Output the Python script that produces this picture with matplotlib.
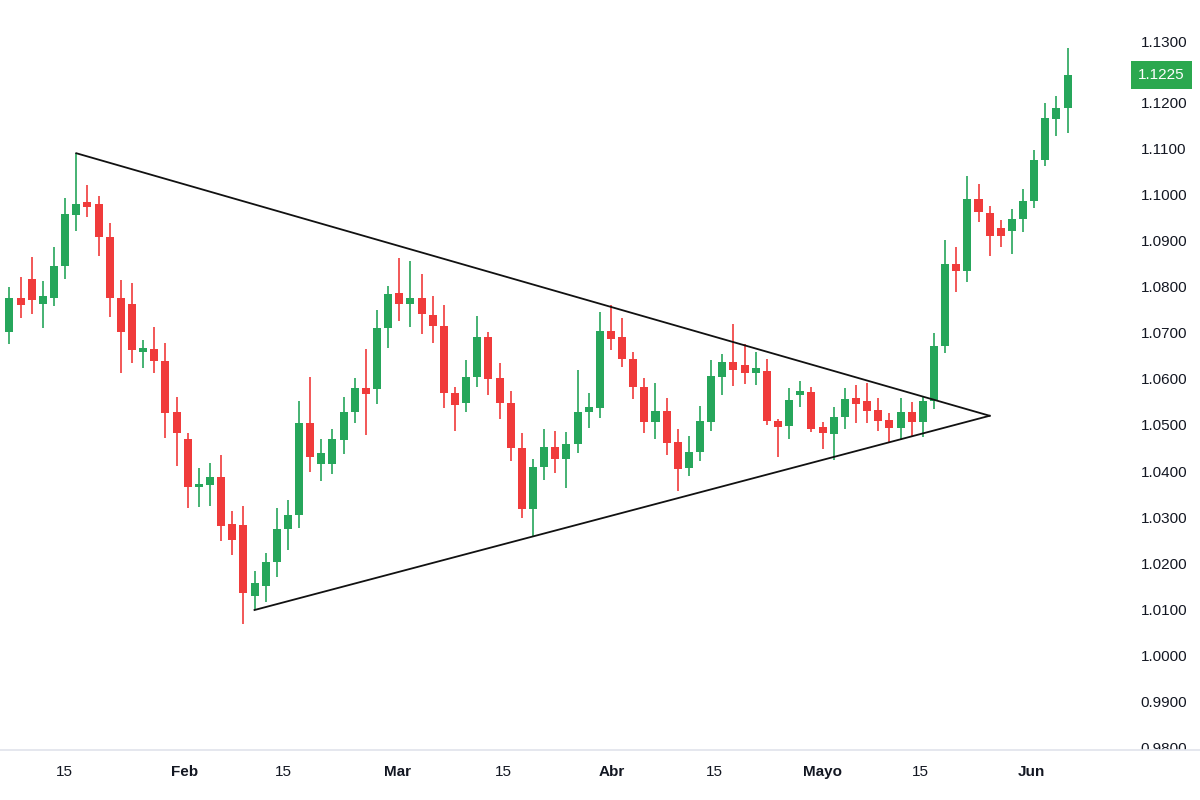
import numpy as np
import matplotlib.pyplot as plt
from matplotlib.lines import Line2D
from matplotlib.patches import Rectangle
import matplotlib.transforms as mtransforms

plt.rcParams['font.family'] = ['Liberation Sans', 'DejaVu Sans']

# daily candles
opens = [1.0701, 1.0775, 1.0816, 1.0762, 1.0776, 1.0845, 1.0956, 1.0983, 1.0980, 1.0908,
         1.0776, 1.0762, 1.0658, 1.0665, 1.0639, 1.0528, 1.0469, 1.0365, 1.0369, 1.0387,
         1.0285, 1.0283, 1.0130, 1.0152, 1.0204, 1.0274, 1.0305, 1.0505, 1.0415, 1.0415,
         1.0468, 1.0528, 1.0581, 1.0578, 1.0710, 1.0785, 1.0762, 1.0775, 1.0738, 1.0715,
         1.0569, 1.0547, 1.0603, 1.0690, 1.0601, 1.0548, 1.0451, 1.0317, 1.0408, 1.0452,
         1.0426, 1.0458, 1.0528, 1.0537, 1.0704, 1.0691, 1.0644, 1.0582, 1.0507, 1.0530,
         1.0463, 1.0406, 1.0441, 1.0507, 1.0603, 1.0637, 1.0630, 1.0613, 1.0618, 1.0509,
         1.0498, 1.0564, 1.0572, 1.0496, 1.0480, 1.0517, 1.0558, 1.0552, 1.0533, 1.0511,
         1.0493, 1.0529, 1.0506, 1.0552, 1.0671, 1.0850, 1.0834, 1.0989, 1.0959, 1.0926,
         1.0921, 1.0946, 1.0985, 1.1074, 1.1163, 1.1186]
highs = [1.0800, 1.0820, 1.0865, 1.0813, 1.0885, 1.0991, 1.1089, 1.1020, 1.0996, 1.0938,
         1.0814, 1.0807, 1.0684, 1.0713, 1.0678, 1.0560, 1.0482, 1.0406, 1.0417, 1.0435,
         1.0314, 1.0325, 1.0184, 1.0222, 1.0320, 1.0337, 1.0551, 1.0605, 1.0469, 1.0491,
         1.0561, 1.0601, 1.0665, 1.0749, 1.0802, 1.0861, 1.0855, 1.0827, 1.0780, 1.0760,
         1.0583, 1.0641, 1.0736, 1.0702, 1.0634, 1.0574, 1.0483, 1.0426, 1.0491, 1.0488,
         1.0484, 1.0620, 1.0570, 1.0744, 1.0760, 1.0731, 1.0658, 1.0601, 1.0592, 1.0559,
         1.0491, 1.0477, 1.0542, 1.0641, 1.0654, 1.0718, 1.0675, 1.0658, 1.0642, 1.0513,
         1.0580, 1.0596, 1.0582, 1.0507, 1.0538, 1.0580, 1.0587, 1.0592, 1.0558, 1.0527,
         1.0559, 1.0549, 1.0563, 1.0699, 1.0902, 1.0885, 1.1040, 1.1022, 1.0975, 1.0944,
         1.0968, 1.1011, 1.1095, 1.1197, 1.1212, 1.1316]
lows = [1.0675, 1.0731, 1.0741, 1.0711, 1.0758, 1.0816, 1.0921, 1.0950, 1.0866, 1.0733,
        1.0612, 1.0635, 1.0624, 1.0612, 1.0472, 1.0412, 1.0321, 1.0323, 1.0325, 1.0249,
        1.0218, 1.0069, 1.0099, 1.0117, 1.0171, 1.0228, 1.0276, 1.0399, 1.0379, 1.0394,
        1.0437, 1.0504, 1.0478, 1.0546, 1.0666, 1.0726, 1.0712, 1.0697, 1.0677, 1.0536,
        1.0486, 1.0529, 1.0582, 1.0564, 1.0513, 1.0423, 1.0298, 1.0257, 1.0381, 1.0395,
        1.0363, 1.0439, 1.0494, 1.0516, 1.0663, 1.0625, 1.0556, 1.0483, 1.0469, 1.0435,
        1.0357, 1.0390, 1.0423, 1.0486, 1.0564, 1.0585, 1.0588, 1.0587, 1.0500, 1.0431,
        1.0469, 1.0540, 1.0485, 1.0448, 1.0424, 1.0491, 1.0504, 1.0504, 1.0486, 1.0464,
        1.0468, 1.0475, 1.0475, 1.0534, 1.0657, 1.0788, 1.0809, 1.0939, 1.0866, 1.0885,
        1.0871, 1.0919, 1.0970, 1.1061, 1.1127, 1.1132]
closes = [1.0775, 1.0760, 1.0771, 1.0780, 1.0845, 1.0957, 1.0979, 1.0973, 1.0907, 1.0775,
          1.0701, 1.0663, 1.0666, 1.0639, 1.0527, 1.0483, 1.0365, 1.0372, 1.0387, 1.0280,
          1.0251, 1.0135, 1.0157, 1.0204, 1.0275, 1.0305, 1.0505, 1.0431, 1.0439, 1.0469,
          1.0528, 1.0581, 1.0567, 1.0711, 1.0784, 1.0762, 1.0775, 1.0740, 1.0715, 1.0569,
          1.0543, 1.0603, 1.0690, 1.0600, 1.0548, 1.0451, 1.0317, 1.0408, 1.0452, 1.0426,
          1.0458, 1.0529, 1.0540, 1.0704, 1.0686, 1.0643, 1.0582, 1.0507, 1.0530, 1.0462,
          1.0405, 1.0442, 1.0509, 1.0606, 1.0637, 1.0619, 1.0613, 1.0623, 1.0509, 1.0496,
          1.0554, 1.0574, 1.0491, 1.0482, 1.0517, 1.0557, 1.0545, 1.0531, 1.0509, 1.0493,
          1.0529, 1.0507, 1.0552, 1.0671, 1.0850, 1.0834, 1.0989, 1.0961, 1.0910, 1.0910,
          1.0946, 1.0985, 1.1074, 1.1165, 1.1188, 1.1259]

# x axis labels (candle index where they sit)
tick_pos = [4.95, 15.75, 24.55, 34.85, 44.35, 54.05, 63.25, 72.95, 81.75, 91.75]
tick_text = ["15", "Feb", "15", "Mar", "15", "Abr", "15", "Mayo", "15", "Jun"]
price_ticks = [0.98, 0.99, 1.00, 1.01, 1.02, 1.03, 1.04, 1.05, 1.06, 1.07,
               1.08, 1.09, 1.10, 1.11, 1.12, 1.13]

# triangle: (candle index, price) for start points and apex
upper_line = ([6, 88.0], [1.1089, 1.0520])
lower_line = ([22, 88.0], [1.0099, 1.0520])
last_label = "1.1225"

green = "#26A65B"
red = "#F03B3B"

o = np.array(opens)
h = np.array(highs)
l = np.array(lows)
c = np.array(closes)
x = np.arange(len(o))
cols = [green if cc >= oo else red for oo, cc in zip(o, c)]

fig = plt.figure(figsize=(12, 8), dpi=100)
ax = fig.add_axes([0, 0.0625, 0.9333, 0.9375])

# wicks then bodies
ax.vlines(x, l, h, colors=cols, linewidth=1.2, zorder=2)
body = np.maximum(np.abs(c - o), 0.00025)
ax.bar(x, body, bottom=np.minimum(o, c), width=0.72, color=cols, zorder=3)

ax.plot(upper_line[0], upper_line[1], color="#111111", lw=1.3, zorder=4)
ax.plot(lower_line[0], lower_line[1], color="#111111", lw=1.3, zorder=4)

ax.set_xlim(-0.85, 99.7)
ax.set_ylim(0.97956, 1.14211)

ax.yaxis.tick_right()
ax.set_yticks(price_ticks)
ax.set_yticklabels(["%.4f" % p for p in price_ticks])
ax.tick_params(axis="y", length=0, pad=15, labelsize=11, labelcolor="#131722")
ax.set_xticks(tick_pos)
ax.set_xticklabels(tick_text)
ax.tick_params(axis="x", length=0, pad=11, labelsize=11, labelcolor="#131722")
for lab in ax.get_xticklabels():
    if not lab.get_text().isdigit():
        lab.set_fontweight("bold")

# top label is pushed up to make room for the price tag
top = ax.get_yticklabels()[-1]
top.set_transform(top.get_transform() +
                  mtransforms.ScaledTranslation(0, 14 / 100, fig.dpi_scale_trans))

for s in ax.spines.values():
    s.set_visible(False)

# last price tag
trans = mtransforms.blended_transform_factory(ax.transAxes, ax.transData)
ax.text(1.0370, c[-1], last_label, transform=trans, ha="center", va="center",
        fontsize=11, color="white", clip_on=False, zorder=6,
        bbox=dict(boxstyle="square,pad=0.45", fc="#2BA84F", ec="none"))

# hide the part of the lowest label under the time axis, then draw the axis line
fig.add_artist(Rectangle((0.9333, 0.0), 0.0667, 0.0625, transform=fig.transFigure,
                         color="white", zorder=5))
fig.add_artist(Line2D([0, 1], [0.0625, 0.0625], transform=fig.transFigure,
                      color="#E0E3EB", lw=1.2, zorder=6))

fig.savefig("out.png", dpi=100)
